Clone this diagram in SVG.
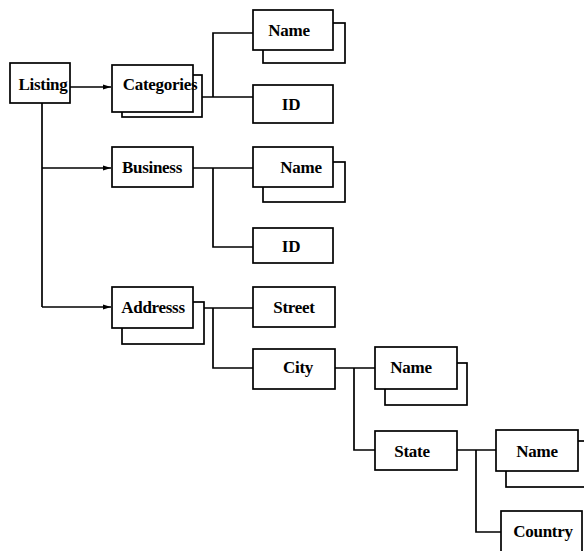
<svg xmlns="http://www.w3.org/2000/svg" width="584" height="551" viewBox="0 0 584 551">
<style>
.b{fill:#fff;stroke:#000;stroke-width:1.7}
.t{font-family:"Liberation Serif","Times New Roman",serif;font-weight:bold;font-size:17px;text-anchor:middle;fill:#000;letter-spacing:-0.3px}
.c{fill:none;stroke:#000;stroke-width:1.7}
</style>
<defs>
<marker id="ah" markerWidth="8" markerHeight="6" refX="8" refY="3" orient="auto" markerUnits="userSpaceOnUse">
<path d="M0,0.5 L8,3 L0,5.5 Z" fill="#000"/>
</marker>
</defs>
<rect width="584" height="551" fill="#fff"/>
<g id="connectors">
<path class="c" d="M70,87 H111" marker-end="url(#ah)"/>
<path class="c" d="M42,103 V307"/>
<path class="c" d="M42,168 H111" marker-end="url(#ah)"/>
<path class="c" d="M42,307 H111" marker-end="url(#ah)"/>
<path class="c" d="M202,97 H253 M213,97 V33 H253"/>
<path class="c" d="M193,168 H253 M213,168 V247 H253"/>
<path class="c" d="M204,308 H253 M213,308 V368 H253"/>
<path class="c" d="M335,368 H375 M354,368 V450 H375"/>
<path class="c" d="M457,450 H496 M476,450 V532 H501"/>
</g>
<g id="listing">
<rect class="b" x="10" y="63" width="60" height="40"/>
<text class="t" x="43" y="90">Listing</text>
</g>
<g id="categories">
<rect class="b" x="122" y="75" width="80" height="42"/>
<rect class="b" x="112" y="65" width="81" height="47"/>
<text class="t" x="160" y="90">Categories</text>
</g>
<g id="cat-name">
<rect class="b" x="263" y="23" width="82" height="40"/>
<rect class="b" x="253" y="10" width="80" height="40"/>
<text class="t" x="289" y="36">Name</text>
</g>
<g id="cat-id">
<rect class="b" x="253" y="85" width="80" height="38"/>
<text class="t" x="291" y="110">ID</text>
</g>
<g id="business">
<rect class="b" x="112" y="147" width="81" height="40"/>
<text class="t" x="152" y="173">Business</text>
</g>
<g id="bus-name">
<rect class="b" x="263" y="162" width="82" height="40"/>
<rect class="b" x="253" y="147" width="80" height="40"/>
<text class="t" x="301" y="173">Name</text>
</g>
<g id="bus-id">
<rect class="b" x="253" y="228" width="80" height="35"/>
<text class="t" x="291" y="252">ID</text>
</g>
<g id="addresss">
<rect class="b" x="122" y="302" width="82" height="42"/>
<rect class="b" x="112" y="287" width="81" height="41"/>
<text class="t" x="153" y="313">Addresss</text>
</g>
<g id="street">
<rect class="b" x="253" y="287" width="82" height="40"/>
<text class="t" x="294" y="313">Street</text>
</g>
<g id="city">
<rect class="b" x="253" y="349" width="82" height="40"/>
<text class="t" x="298" y="373">City</text>
</g>
<g id="city-name">
<rect class="b" x="385" y="363" width="82" height="42"/>
<rect class="b" x="375" y="347" width="82" height="42"/>
<text class="t" x="411" y="373">Name</text>
</g>
<g id="state">
<rect class="b" x="375" y="431" width="82" height="39"/>
<text class="t" x="412" y="457">State</text>
</g>
<g id="state-name">
<rect class="b" x="506" y="441" width="90" height="46"/>
<rect class="b" x="496" y="430" width="82" height="41"/>
<text class="t" x="537" y="457">Name</text>
</g>
<g id="country">
<rect class="b" x="501" y="511" width="81" height="50"/>
<text class="t" x="543" y="537">Country</text>
</g>
</svg>
